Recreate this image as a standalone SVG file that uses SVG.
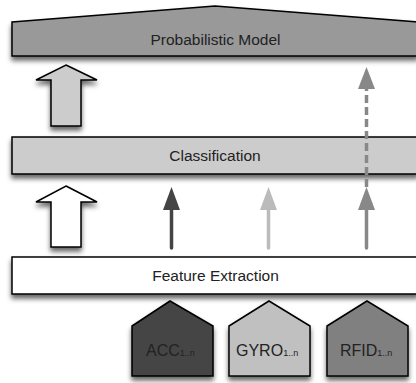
<svg xmlns="http://www.w3.org/2000/svg" width="416" height="383" viewBox="0 0 416 383">
<defs>
<filter id="sh" x="-20%" y="-20%" width="140%" height="160%">
<feDropShadow dx="0" dy="4" stdDeviation="2.5" flood-color="#000" flood-opacity="0.6"/>
</filter>
</defs>
<style>
.box{stroke:#000;stroke-width:1.5;filter:url(#sh)}
.t{font-family:"Liberation Sans",Arial,sans-serif;font-size:15.5px;fill:#222;text-anchor:middle}
.s{font-family:"Liberation Sans",Arial,sans-serif;font-size:16px;fill:#222}
.sub{font-size:9px}
</style>
<rect width="416" height="383" fill="#fff"/>
<g id="probabilistic-model">
<path class="box" d="M12,22 L215,6 L418,22 L418,56 L12,56 Z" fill="#999"/>
<text class="t" x="215.5" y="45">Probabilistic Model</text>
</g>
<g id="classification">
<rect class="box" x="12" y="137" width="406" height="37" fill="#ccc"/>
<text class="t" x="215" y="161">Classification</text>
</g>
<g id="feature-extraction">
<rect class="box" x="12" y="257" width="406" height="37" fill="#fff"/>
<text class="t" x="215.5" y="281">Feature Extraction</text>
</g>
<g id="acc">
<path class="box" d="M132,326 L170,301 L213,326 L213,376 L132,376 Z" fill="#444"/>
<text class="s" x="146" y="356">ACC<tspan class="sub">1..n</tspan></text>
</g>
<g id="gyro">
<path class="box" d="M229,326 L269,301 L310,326 L310,376 L229,376 Z" fill="#c0c0c0"/>
<text class="s" x="236" y="356">GYRO<tspan class="sub">1..n</tspan></text>
</g>
<g id="rfid">
<path class="box" d="M327,326 L367,301 L408,326 L408,376 L327,376 Z" fill="#808080"/>
<text class="s" x="340" y="356">RFID<tspan class="sub">1..n</tspan></text>
</g>
<g id="connectors">
<path class="box" d="M66,65 L97,80 L81,80 L81,126 L51,126 L51,80 L36,80 Z" fill="#ccc"/>
<path class="box" d="M66,186 L97,202 L81,202 L81,247 L51,247 L51,202 L36,202 Z" fill="#fff"/>
<line x1="171.5" y1="248" x2="171.5" y2="208" stroke="#444" stroke-width="3.5" stroke-linecap="round"/>
<path d="M171.5,187 L180,210 L163,210 Z" fill="#444"/>
<line x1="268.5" y1="248" x2="268.5" y2="208" stroke="#bbb" stroke-width="3.5" stroke-linecap="round"/>
<path d="M268.5,187 L277,210 L260,210 Z" fill="#bbb"/>
<line x1="366.5" y1="248" x2="366.5" y2="208" stroke="#888" stroke-width="3.5" stroke-linecap="round"/>
<path d="M366.5,187 L375,210 L358,210 Z" fill="#888"/>
<line x1="366.5" y1="187" x2="366.5" y2="88" stroke="#888" stroke-width="3.5" stroke-dasharray="8,4"/>
<path d="M366.5,67 L375,89 L358,89 Z" fill="#888"/>
</g>
</svg>
